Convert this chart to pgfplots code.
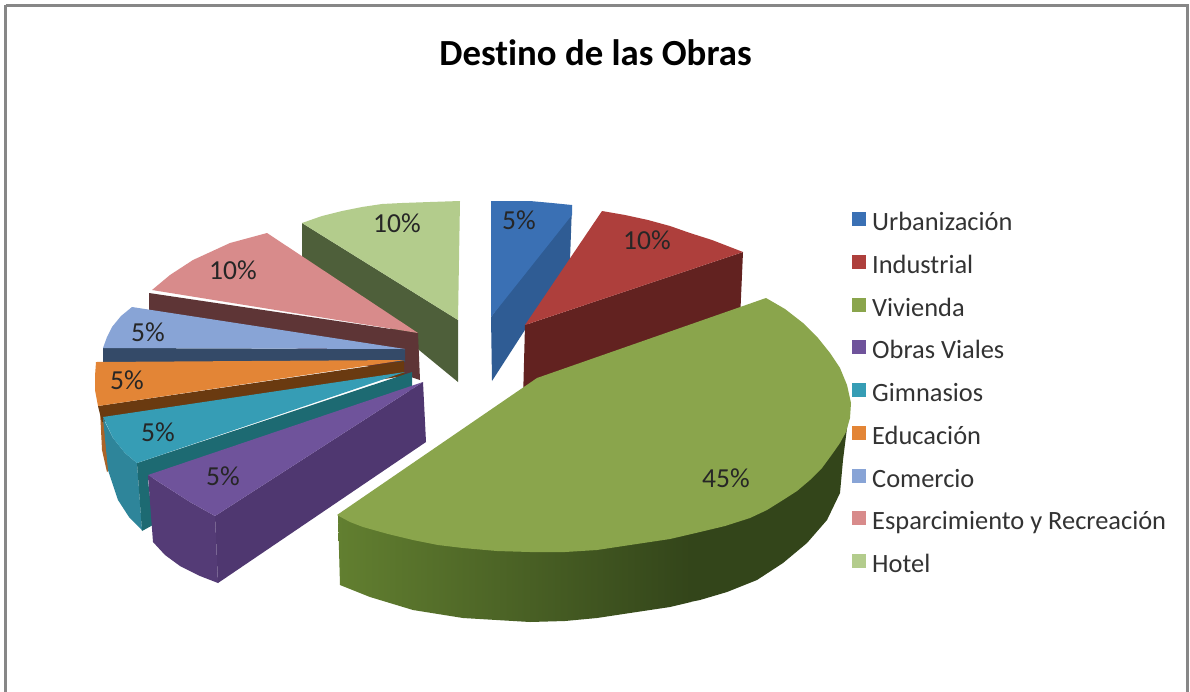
\documentclass[border=0pt]{standalone}
\usepackage{pgfplots}
\pgfplotsset{compat=1.18}
\usepackage{fontspec}
\setmainfont[Ligatures=NoCommon]{Carlito}
\definecolor{urb}{HTML}{3A70B4}\definecolor{urbs}{HTML}{2F5C94}
\definecolor{ind}{HTML}{AE3F3C}\definecolor{inds}{HTML}{622220}
\definecolor{viv}{HTML}{8AA54C}
\definecolor{obr}{HTML}{6F539B}\definecolor{obrs}{HTML}{4F3770}
\definecolor{gim}{HTML}{369DB5}\definecolor{gims}{HTML}{1D6A72}
\definecolor{edu}{HTML}{E38536}\definecolor{edus}{HTML}{6A3A10}
\definecolor{com}{HTML}{88A4D6}\definecolor{coms}{HTML}{344A68}
\definecolor{esp}{HTML}{D88B8B}\definecolor{esps}{HTML}{5E3536}
\definecolor{hot}{HTML}{B3CC8C}\definecolor{hots}{HTML}{4E5F3A}
\definecolor{gl}{HTML}{627F30}\definecolor{gd}{HTML}{33451A}
\tikzset{lab/.style={font=\fontsize{27.5}{29}\selectfont,text=black!85}}
\begin{document}
\begin{tikzpicture}
\begin{axis}[
  x=1pt,y=-1pt,xmin=0,xmax=1190,ymin=0,ymax=691,
  axis lines=none,clip=true,scale only axis,
  every axis plot/.append style={forget plot},
  legend style={at={(axis cs:848.5,210)},anchor=north west,draw=none,fill=none,
    font=\fontsize{26.4}{28}\selectfont,text=black!80,row sep=19.25pt,
    nodes={text height=16pt,text depth=5pt,inner xsep=6.5pt,inner ysep=0pt}},
  legend cell align=left,
  legend image code/.code={\fill[#1,draw=none] (0pt,-1pt) rectangle (14pt,13pt);}
]
\addlegendimage{fill=urb}\addlegendentry{Urbanización}
\addlegendimage{fill=ind}\addlegendentry{Industrial}
\addlegendimage{fill=viv}\addlegendentry{Vivienda}
\addlegendimage{fill=obr}\addlegendentry{Obras Viales}
\addlegendimage{fill=gim}\addlegendentry{Gimnasios}
\addlegendimage{fill=edu}\addlegendentry{Educación}
\addlegendimage{fill=com}\addlegendentry{Comercio}
\addlegendimage{fill=esp}\addlegendentry{Esparcimiento y Recreación}
\addlegendimage{fill=hot}\addlegendentry{Hotel}
% frame
\addplot[draw=black!47,line width=3pt,fill=white] coordinates {(5.5,5)(1187,5)(1187,700)(5.5,700)(5.5,5)};
% Hotel
\addplot[draw=none,fill=hots] coordinates {(302,223)(458,320)(458,382)(419,350)(302,262)};
\addplot[draw=none,fill=hot] coordinates {(302,223)(322,216)(342,211)(362,207)(382,204)(402,203)(430,202)(460,201)(459,260)(458,320)};
% Urbanizacion
\addplot[draw=none,fill=urbs] coordinates {(572,205)(570,260)(492,381)(491,317)};
\addplot[draw=none,fill=urb] coordinates {(491,201)(510,201)(530,201)(552,203)(572,205)(572,215)(491,317)};
% Industrial
\addplot[draw=none,fill=inds] coordinates {(525,325)(743,252)(740,320)(523,400)};
\addplot[draw=none,fill=ind] coordinates {(525,325)(602,211)(625,215)(648,220)(670,226)(690,233)(712,240)(743,252)};
% Esparcimiento
\addplot[draw=none,fill=esps] coordinates {(149,293)(418,333)(420,380)(405,375)(149,312)};
\addplot[draw=none,fill=esp] coordinates {(152,290)(170,275)(193,260)(230,243)(267,233)(418,333)};
% Comercio
\addplot[draw=none,fill=coms] coordinates {(103,348)(405,349)(405,362)(103,364)};
\addplot[draw=none,fill=com] coordinates {(103,348)(107,337)(112,327)(121,316)(132,307)(405,349)};
% Educacion
\addplot[draw=none,fill=edu!75!black] coordinates {(100,410)(102,450)(107,472)(109,470)(104,418)};
\addplot[draw=none,fill=edus] coordinates {(98,406)(404,361)(404,376)(102,422)};
\addplot[draw=none,fill=edu] coordinates {(96,362)(95,376)(95,390)(98,406)(405,360)};
% Gimnasios
\addplot[draw=none,fill=gim!85!black] coordinates {(103,418)(108,470)(118,500)(129,517)(142,530)(137,463)(125,453)(113,438)};
\addplot[draw=none,fill=gims] coordinates {(137,463)(412,372)(412,390)(148,480)(153,525)(142,531)};
\addplot[draw=none,fill=gim] coordinates {(103,417)(113,438)(125,453)(137,463)(405,372)};
% Obras viales
\addplot[draw=none,fill=obrs] coordinates {(215,516)(423,382)(426,442)(218,583)};
\addplot[draw=none,fill=obrs!85!obr] coordinates {(148,475)(153,542)(165,555)(180,566)(200,576)(218,583)(215,516)(190,502)(165,486)};
\addplot[draw=none,fill=obr] coordinates {(148,475)(165,486)(190,502)(215,516)(423,382)};
% Vivienda
\addplot[draw=none,left color=gl,right color=gd]
  coordinates {(338,515)(340,585)(370,597)(413,610)(463,618)(530,622)(565,621)(597,618)(630,613)(670,607)(691,602)(691,500)};
\addplot[draw=none,fill=gd]
  coordinates {(690,602)(700,600)(727,592)(757,580)(783,563)(807,543)(827,520)(840,493)(843,460)(848,420)(700,400)(690,500)};
\addplot[draw=none,fill=viv] coordinates {(537,378)(766,298)(785,309)(803,323)(818,338)(830,353)(840,368)(847,385)(851,403)(850,418)(846,432)(840,443)(833,453)(822,468)(810,480)(797,491)(783,500)(767,510)(750,518)(725,526)(700,532)(670,539)(630,545)(597,550)(565,552)(530,552)(497,551)(463,548)(438,545)(413,540)(388,534)(363,527)(350,522)(337,515)};
% text
\node[font=\bfseries\fontsize{36.8}{40}\selectfont,text=black] at (axis cs:595.5,53) {Destino de las Obras};
\node[lab] at (axis cs:519,220) {5\%};
\node[lab] at (axis cs:647,240) {10\%};
\node[lab] at (axis cs:726,478) {45\%};
\node[lab] at (axis cs:223,476) {5\%};
\node[lab] at (axis cs:158,432) {5\%};
\node[lab] at (axis cs:127,380) {5\%};
\node[lab] at (axis cs:148,332) {5\%};
\node[lab] at (axis cs:233,270) {10\%};
\node[lab] at (axis cs:397,223) {10\%};
\end{axis}
\pgfresetboundingbox
\path[use as bounding box] (current axis.south west) rectangle (current axis.north east);
\end{tikzpicture}
\end{document}
